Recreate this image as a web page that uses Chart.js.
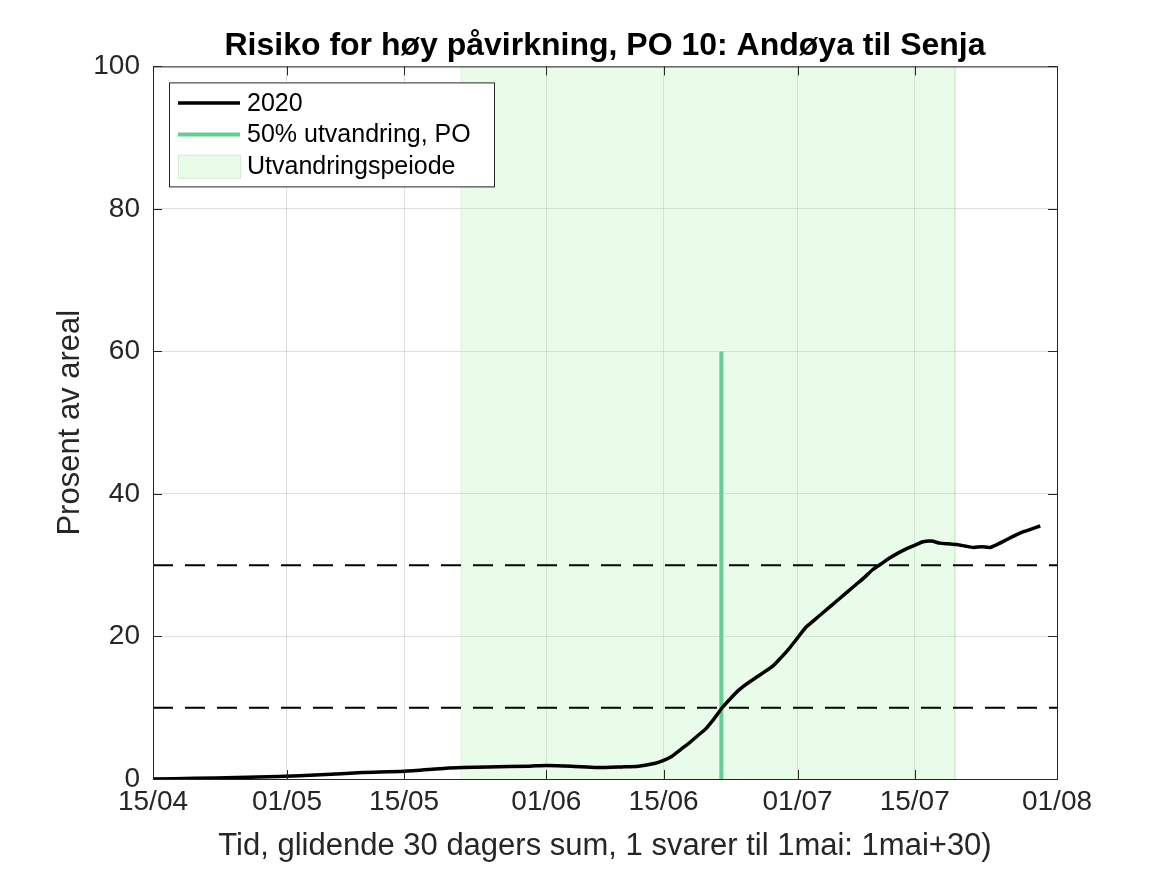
<!DOCTYPE html>
<html>
<head>
<meta charset="utf-8">
<script src="https://cdn.jsdelivr.net/npm/chart.js@4.4.1/dist/chart.umd.min.js"></script>
<style>
  html, body { margin: 0; padding: 0; background: #fff; }
  #wrap { width: 1167px; height: 875px; }
</style>
</head>
<body>
<div id="wrap"><canvas id="riskChart"></canvas></div>
<script>
// x is counted in days from 15/04
const tickDays = [0, 16, 30, 47, 61, 77, 91, 108];
const tickLabels = ['15/04', '01/05', '15/05', '01/06', '15/06', '01/07', '15/07', '01/08'];

// 2020 curve, percent of area
const curveDays = [0, 5, 10, 15, 20, 25, 30, 35, 37, 40, 45, 47, 50, 53, 56, 58, 60, 61, 62, 63, 64, 65, 66, 67, 68, 69,
  70, 71, 72, 73, 74, 75, 76, 77, 78, 79, 80, 81, 82, 83, 84, 85, 86, 87, 88, 89, 90, 91, 92, 93, 94, 95, 96, 97, 98,
  99, 100, 101, 102, 103, 104, 105, 106];
const riskValues = [0.0, 0.1, 0.2, 0.35, 0.6, 0.9, 1.1, 1.5, 1.6, 1.7, 1.8, 1.9, 1.8, 1.6, 1.7, 1.8, 2.2, 2.6, 3.2,
  4.1, 5.0, 6.0, 7.0, 8.4, 10.0, 11.3, 12.5, 13.4, 14.2, 15.0, 15.8, 17.0, 18.3, 19.8, 21.3, 22.3, 23.3, 24.3, 25.3,
  26.3, 27.3, 28.3, 29.4, 30.2, 31.0, 31.7, 32.3, 32.8, 33.3, 33.4, 33.1, 33.0, 32.9, 32.7, 32.5, 32.6, 32.5, 33.0,
  33.6, 34.2, 34.7, 35.1, 35.5];

// migration period (shaded) and the 50% migration day
const periodStart = 36.8;
const periodEnd = 95.8;
const halfMigrationDay = 67.9;
const halfMigrationTop = 60;
const thresholds = [10, 30];

const fontFamily = '"Liberation Sans", Arial, Helvetica, sans-serif';
const axisColor = '#262626';

const curvePoints = curveDays.map((d, i) => ({ x: d, y: riskValues[i] }));

const thresholdSets = thresholds.map(t => ({
  data: [{ x: tickDays[0], y: t }, { x: tickDays[tickDays.length - 1], y: t }],
  borderColor: '#000',
  borderWidth: 2,
  borderDash: [20, 12],
  pointRadius: 0,
  fill: false,
}));

// box + inward ticks on all four sides, like the original
const framePlugin = {
  id: 'frame',
  afterDraw(chart) {
    const { ctx, chartArea: a, scales } = chart;
    const len = 9;
    ctx.save();
    ctx.strokeStyle = axisColor;
    ctx.lineWidth = 1;
    ctx.strokeRect(a.left + 0.5, a.top + 0.5, a.right - a.left, a.bottom - a.top);
    ctx.beginPath();
    scales.x.ticks.forEach(t => {
      const px = Math.round(scales.x.getPixelForValue(t.value)) + 0.5;
      ctx.moveTo(px, a.bottom); ctx.lineTo(px, a.bottom - len);
      ctx.moveTo(px, a.top); ctx.lineTo(px, a.top + len);
    });
    scales.y.ticks.forEach(t => {
      const py = Math.round(scales.y.getPixelForValue(t.value)) + 0.5;
      ctx.moveTo(a.left, py); ctx.lineTo(a.left + len, py);
      ctx.moveTo(a.right, py); ctx.lineTo(a.right - len, py);
    });
    ctx.stroke();
    ctx.restore();
  }
};

// legend box in the upper left corner of the axes
const boxLegend = {
  id: 'boxLegend',
  afterDraw(chart) {
    const { ctx, chartArea: a } = chart;
    const items = chart.data.datasets.filter(ds => ds.label);
    const x0 = a.left + 16, y0 = a.top + 16;
    const w = 325, rowH = 31.7, h = 104;
    ctx.save();
    ctx.fillStyle = '#fff';
    ctx.fillRect(x0, y0, w, h);
    ctx.strokeStyle = axisColor;
    ctx.lineWidth = 1;
    ctx.strokeRect(x0 + 0.5, y0 + 0.5, w, h);
    ctx.font = '25px ' + fontFamily;
    ctx.textBaseline = 'middle';
    items.forEach((ds, i) => {
      const cy = y0 + 20.5 + i * rowH;
      const sx = x0 + 9, sw = 62;
      if (ds.fill) {
        ctx.fillStyle = '#e9fce9';
        ctx.fillRect(sx, cy - 11.5, sw, 23);
        ctx.lineWidth = 1;
        ctx.strokeStyle = '#d6ead6';
        ctx.strokeRect(sx + 0.5, cy - 11, sw, 23);
      } else {
        ctx.strokeStyle = ds.borderColor;
        ctx.lineWidth = ds.borderWidth;
        ctx.beginPath();
        ctx.moveTo(sx, cy); ctx.lineTo(sx + sw, cy);
        ctx.stroke();
      }
      ctx.fillStyle = '#000';
      ctx.fillText(ds.label, sx + sw + 7, cy + 1);
    });
    ctx.restore();
  }
};

new Chart(document.getElementById('riskChart'), {
  type: 'line',
  data: {
    datasets: [
      {
        label: '2020',
        data: curvePoints,
        borderColor: '#000',
        borderWidth: 3.5,
        pointRadius: 0,
        tension: 0.2,
        fill: false,
      },
      {
        label: '50% utvandring, PO',
        data: [{ x: halfMigrationDay, y: 0 }, { x: halfMigrationDay, y: halfMigrationTop }],
        borderColor: '#63cf92',
        borderWidth: 4,
        pointRadius: 0,
        fill: false,
      },
      ...thresholdSets,
      {
        label: 'Utvandringspeiode',
        data: [
          { x: periodStart, y: 0 }, { x: periodStart, y: 100 },
          { x: periodEnd, y: 100 }, { x: periodEnd, y: 0 }
        ],
        borderColor: 'rgba(120,170,120,0.15)',
        borderWidth: 1,
        backgroundColor: 'rgba(167,243,167,0.25)',
        pointRadius: 0,
        fill: 'origin',
      },
    ]
  },
  options: {
    responsive: true,
    maintainAspectRatio: false,
    animation: false,
    layout: { padding: { left: 0, right: 110, top: 0, bottom: 0 } },
    scales: {
      x: {
        type: 'linear',
        min: tickDays[0],
        max: tickDays[tickDays.length - 1],
        afterBuildTicks: scale => { scale.ticks = tickDays.map(v => ({ value: v })); },
        afterFit: scale => { scale.height = 96; },
        ticks: {
          autoSkip: false,
          maxRotation: 0,
          padding: 6,
          color: axisColor,
          font: { family: fontFamily, size: 28 },
          callback: (value, index) => tickLabels[index],
        },
        grid: { color: 'rgba(38,38,38,0.15)', drawTicks: false },
        border: { color: axisColor, width: 1 },
        title: {
          display: true,
          text: 'Tid, glidende 30 dagers sum, 1 svarer til 1mai: 1mai+30)',
          color: axisColor,
          font: { family: fontFamily, size: 31 },
          padding: { top: 0, bottom: 10 },
        },
      },
      y: {
        min: 0,
        max: 100,
        afterFit: scale => { scale.width = 153; },
        ticks: {
          stepSize: 20,
          padding: 13,
          color: axisColor,
          font: { family: fontFamily, size: 28 },
        },
        grid: { color: 'rgba(38,38,38,0.15)', drawTicks: false },
        border: { color: axisColor, width: 1 },
        title: {
          display: true,
          text: 'Prosent av areal',
          color: axisColor,
          font: { family: fontFamily, size: 31 },
          padding: { top: 52, bottom: 0 },
        },
      }
    },
    plugins: {
      legend: { display: false },
      tooltip: { enabled: false },
      title: {
        display: true,
        fullSize: false,
        text: 'Risiko for høy påvirkning, PO 10: Andøya til Senja',
        color: '#000',
        font: { family: fontFamily, size: 32, weight: 'bold' },
        padding: { top: 27, bottom: 1 },
      }
    }
  },
  plugins: [framePlugin, boxLegend]
});
</script>
</body>
</html>
